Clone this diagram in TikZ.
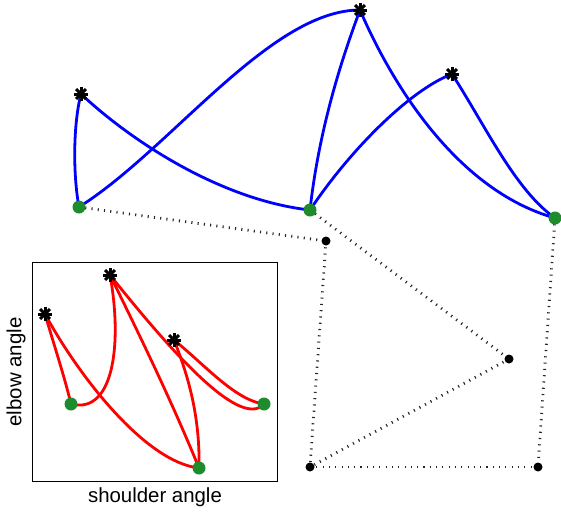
\documentclass[tikz,border=0pt]{standalone}
\usepackage{fontspec}
\setmainfont{Liberation Sans}
\usetikzlibrary{calc}
\definecolor{dotgreen}{RGB}{30,140,45}
\tikzset{
  bluecurve/.style={draw=blue, line width=2.8pt},
  redcurve/.style={draw=red, line width=2.8pt},
  dotline/.style={draw=black!85, line width=2.8pt, dash pattern=on 1.1pt off 5.2pt},
  gdot/.style={circle, fill=dotgreen, inner sep=0pt, minimum size=13pt},
  kdot/.style={circle, fill=black, inner sep=0pt, minimum size=9pt},
  axlabel/.style={font=\fontsize{20.4}{24}\selectfont, inner sep=0pt},
}
\newcommand{\astmark}[1]{%
  \foreach \ang in {0,45,90,135}{\draw[line width=3pt] ($(#1)+(\ang:7)$) -- ($(#1)+(\ang+180:7)$);}}
\begin{document}
\begin{tikzpicture}[x=1pt,y=-1pt]
\useasboundingbox (0,0) rectangle (561,515);
% main figure points
\coordinate (G1) at (79,207);
\coordinate (G2) at (310,210);
\coordinate (G3) at (555,218);
\coordinate (A1) at (81,94);
\coordinate (A2) at (452,74);
\coordinate (A3) at (360,10);
\coordinate (K1) at (326,241);
\coordinate (K2) at (509,359);
\coordinate (K3) at (310,467);
\coordinate (K4) at (538,467);
% inset points
\coordinate (g1) at (71,404);
\coordinate (g2) at (199,468);
\coordinate (g3) at (264,404);
\coordinate (a1) at (45,314);
\coordinate (a2) at (110,275);
\coordinate (a3) at (174,340);
% dotted lines
\draw[dotline] (G1) -- (K1);
\draw[dotline] (G2) -- (K2);
\draw[dotline] (G3) -- (K4);
\draw[dotline] (K1) -- (K3);
\draw[dotline] (K2) -- (K3);
\draw[dotline] (K3) -- (K4);
% blue curves
\draw[bluecurve] (G1) .. controls (73,175) and (73,125) .. (A1);
\draw[bluecurve] (A1) .. controls (130,140) and (220,200) .. (G2);
\draw[bluecurve] (G1) .. controls (170,150) and (270,10) .. (A3);
\draw[bluecurve] (G2) .. controls (320,120) and (347,45) .. (A3);
\draw[bluecurve] (A3) .. controls (390,80) and (455,190) .. (G3);
\draw[bluecurve] (G2) .. controls (350,150) and (410,90) .. (A2);
\draw[bluecurve] (A2) .. controls (485,125) and (515,190) .. (G3);
% inset box
\node[draw=black, line width=1pt, inner sep=0pt, minimum width=245pt, minimum height=219.5pt] (box) at (155,372) {};
\node[axlabel, rotate=90] (ylab) at (16,372) {elbow angle};
\node[axlabel] (xlab) at (155,497) {shoulder angle};
% red curves
\draw[redcurve] (a1) .. controls (54,345) and (64,375) .. (g1);
\draw[redcurve] (a1) .. controls (78,375) and (145,462) .. (g2);
\draw[redcurve] (g1) .. controls (115,415) and (122,340) .. (a2);
\draw[redcurve] (a2) .. controls (141,338) and (172,402) .. (g2);
\draw[redcurve] (a2) .. controls (170,350) and (240,430) .. (g3);
\draw[redcurve] (a3) .. controls (190,380) and (200,420) .. (g2);
\draw[redcurve] (a3) .. controls (205,365) and (235,400) .. (g3);
% dots
\foreach \p in {G1,G2,G3,g1,g2,g3} \node[gdot] (n\p) at (\p) {};
\foreach \p in {K1,K2,K3,K4} \node[kdot] (n\p) at (\p) {};
\foreach \p in {A1,A2,A3,a1,a2,a3} \astmark{\p};
\end{tikzpicture}
\end{document}
